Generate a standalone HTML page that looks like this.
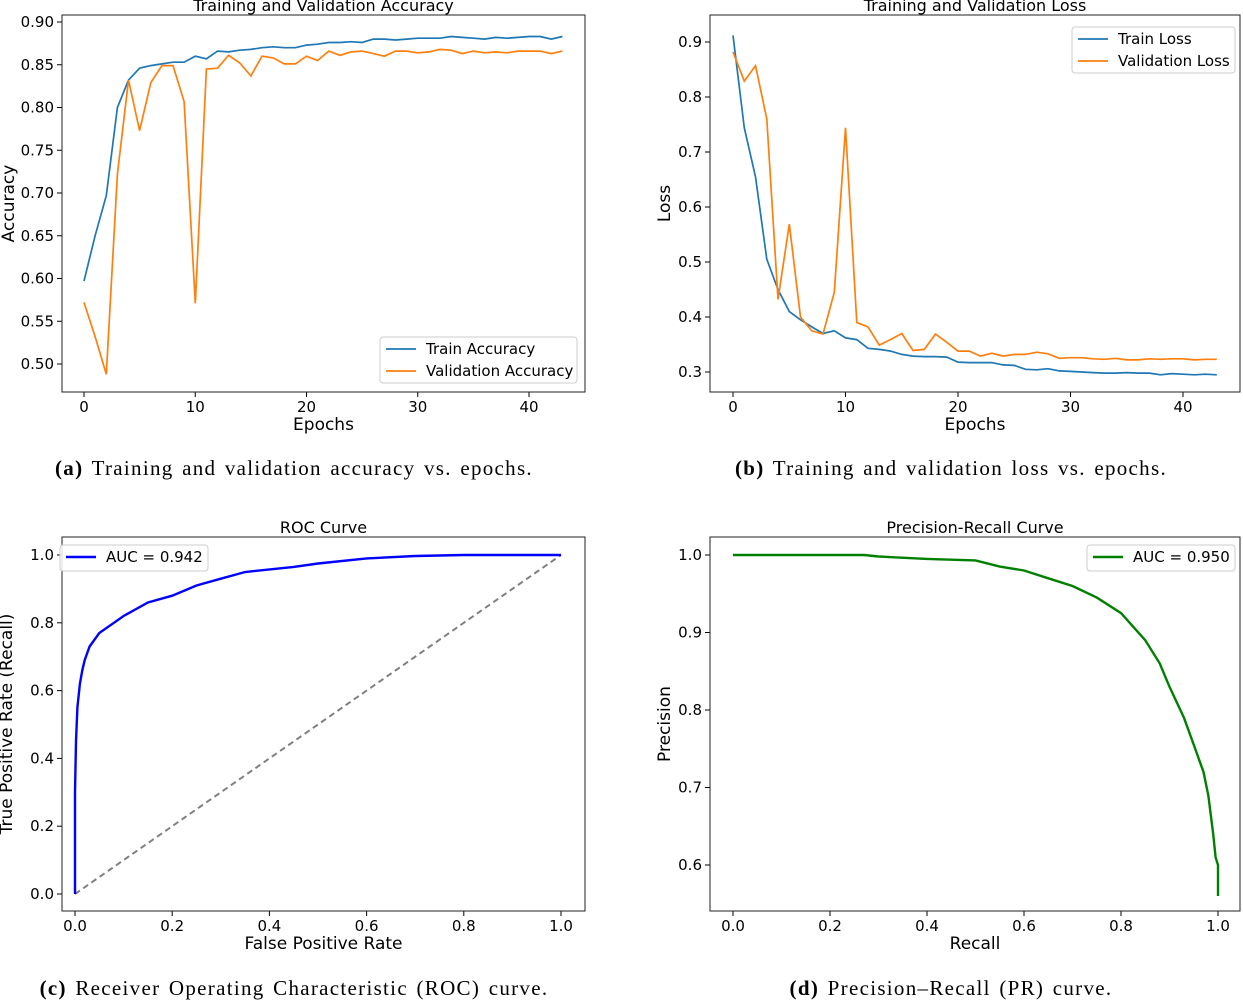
<!DOCTYPE html>
<html><head><meta charset="utf-8"><style>
body{margin:0;background:#fff}
svg text{font-family:"DejaVu Sans","Liberation Sans",sans-serif;fill:#000}
.cap{font-family:"Liberation Serif",serif;font-size:21px;letter-spacing:1.3px;word-spacing:2px}
</style></head><body>
<svg id="s" width="1243" height="1001" xmlns="http://www.w3.org/2000/svg"></svg>
<script>
const epochs=[...Array(44).keys()];
const trainAcc=[0.597,0.65,0.697,0.80,0.832,0.846,0.849,0.851,0.853,0.853,0.860,0.857,0.866,0.865,0.867,0.868,0.870,0.871,0.870,0.870,0.873,0.874,0.876,0.876,0.877,0.876,0.880,0.880,0.879,0.880,0.881,0.881,0.881,0.883,0.882,0.881,0.880,0.882,0.881,0.882,0.883,0.883,0.880,0.883];
const valAcc=[0.572,0.532,0.488,0.722,0.832,0.773,0.829,0.849,0.849,0.807,0.571,0.845,0.846,0.861,0.852,0.837,0.860,0.858,0.851,0.851,0.860,0.855,0.866,0.861,0.865,0.866,0.863,0.860,0.866,0.866,0.864,0.865,0.868,0.867,0.863,0.866,0.864,0.865,0.864,0.866,0.866,0.866,0.863,0.866];
const trainLoss=[0.912,0.744,0.655,0.505,0.45,0.41,0.395,0.382,0.37,0.375,0.362,0.359,0.343,0.341,0.338,0.332,0.329,0.328,0.328,0.327,0.318,0.317,0.317,0.317,0.313,0.312,0.305,0.304,0.306,0.302,0.301,0.300,0.299,0.298,0.298,0.299,0.298,0.298,0.295,0.297,0.296,0.295,0.296,0.295];
const valLoss=[0.882,0.829,0.857,0.76,0.432,0.569,0.40,0.375,0.369,0.445,0.744,0.39,0.382,0.349,0.359,0.37,0.339,0.341,0.369,0.354,0.338,0.338,0.329,0.334,0.329,0.332,0.332,0.336,0.333,0.325,0.326,0.326,0.324,0.323,0.325,0.322,0.322,0.324,0.323,0.324,0.324,0.322,0.323,0.323];
const rocFpr=[0,0,0.002,0.005,0.01,0.015,0.02,0.03,0.05,0.08,0.1,0.15,0.2,0.25,0.3,0.35,0.45,0.5,0.6,0.7,0.8,1];
const rocTpr=[0,0.3,0.45,0.55,0.62,0.66,0.69,0.73,0.77,0.80,0.82,0.86,0.88,0.91,0.93,0.95,0.965,0.975,0.99,0.997,1,1];
const prRecall=[0,0.27,0.3,0.4,0.5,0.55,0.6,0.65,0.7,0.75,0.8,0.85,0.88,0.9,0.93,0.95,0.97,0.98,0.99,0.995,1,1];
const prPrecision=[1,1,0.998,0.995,0.993,0.985,0.98,0.97,0.96,0.945,0.925,0.89,0.86,0.83,0.79,0.755,0.72,0.69,0.64,0.61,0.6,0.56];
const epochTicks=[0,10,20,30,40];
const accTicks=[0.50,0.55,0.60,0.65,0.70,0.75,0.80,0.85,0.90];
const lossTicks=[0.3,0.4,0.5,0.6,0.7,0.8,0.9];
const unitTicks=[0,0.2,0.4,0.6,0.8,1.0];
const precTicks=[0.6,0.7,0.8,0.9,1.0];
const diag=[0,1];

const S=document.getElementById('s');
function el(t,a,txt){const e=document.createElementNS('http://www.w3.org/2000/svg',t);for(const k in a)e.setAttribute(k,a[k]);if(txt!==undefined)e.textContent=txt;S.appendChild(e);return e;}

function panel(p){
  const sx=v=>p.px0+(v-p.x0)*(p.px1-p.px0)/(p.x1-p.x0);
  const sy=v=>p.py0+(v-p.y0)*(p.py1-p.py0)/(p.y1-p.y0);
  for(const t of p.xt){const x=sx(t);
    const l=el('line',{x1:x,x2:x,y1:p.b.y+p.b.h,y2:p.b.y+p.b.h+5,stroke:'#000'});
    
    const tx=el('text',{x:x,y:p.b.y+p.b.h+20,'font-size':15,'text-anchor':'middle'},p.xf(t));
    }
  for(const t of p.yt){const y=sy(t);
    const l=el('line',{x1:p.b.x-5,x2:p.b.x,y1:y,y2:y,stroke:'#000'});
    
    const tx=el('text',{x:p.b.x-8,y:y+5,'font-size':15,'text-anchor':'end'},p.yf(t));
    }
  for(const s of p.series){
    const pts=s.xs.map((v,i)=>sx(v).toFixed(1)+','+sy(s.ys[i]).toFixed(1)).join(' ');
    const pl=el('polyline',{points:pts,fill:'none',stroke:s.c,'stroke-width':s.w||1.7,'stroke-dasharray':s.d||'none'});
    }
  const r=el('rect',{x:p.b.x,y:p.b.y,width:p.b.w,height:p.b.h,fill:'none',stroke:'#222','stroke-width':1});
  
  const ti=el('text',{x:p.b.x+p.b.w/2,y:p.b.y-4,'font-size':16,'text-anchor':'middle'},p.title);
  
  const xl=el('text',{x:p.b.x+p.b.w/2,y:p.b.y+p.b.h+38,'font-size':17,'text-anchor':'middle'},p.xl);
  
  const yx=p.b.x-p.ylo, yy=p.b.y+p.b.h/2;
  const yl=el('text',{x:yx,y:yy,'font-size':17,'text-anchor':'middle',transform:`rotate(-90 ${yx} ${yy})`},p.yl);
  
  const L=p.leg;
  const lr=el('rect',{x:L.x,y:L.y,width:L.w,height:L.h,rx:3,fill:'#fff','fill-opacity':0.85,stroke:'#ccc'});
  
  L.items.forEach((it,i)=>{const y=L.y+12+i*22;
    const ll=el('line',{x1:L.x+6,x2:L.x+36,y1:y,y2:y,stroke:it.c,'stroke-width':it.w||1.7});
    
    const lt=el('text',{x:L.x+46,y:y+5,'font-size':15},it.t);
    });
  const cp=el('text',{x:p.capX,y:p.capY,'text-anchor':'middle',class:'cap'});
  
  const bb=document.createElementNS('http://www.w3.org/2000/svg','tspan');bb.setAttribute('font-weight','bold');bb.textContent=p.capL;cp.appendChild(bb);
  const rest=document.createElementNS('http://www.w3.org/2000/svg','tspan');rest.textContent=' '+p.cap;cp.appendChild(rest);
}
const BLUE='#1f77b4',OR='#ff7f0e';
panel({b:{x:62,y:15,w:523,h:377},x0:0,x1:40,px0:84,px1:529,y0:0.5,y1:0.9,py0:364,py1:22,
 xt:epochTicks,yt:accTicks,xf:v=>v,yf:v=>v.toFixed(2),title:'Training and Validation Accuracy',xl:'Epochs',yl:'Accuracy',ylo:48,
 series:[{xs:epochs,ys:trainAcc,c:BLUE,name:'train-accuracy-line'},{xs:epochs,ys:valAcc,c:OR,name:'validation-accuracy-line'}],
 leg:{x:380,y:337,w:197,h:46,items:[{t:'Train Accuracy',c:BLUE},{t:'Validation Accuracy',c:OR}]},capX:294,capY:475,capL:'(a)',cap:'Training and validation accuracy vs. epochs.'});
panel({b:{x:710,y:15,w:530,h:377},x0:0,x1:40,px0:733,px1:1183,y0:0.3,y1:0.9,py0:372,py1:42,
 xt:epochTicks,yt:lossTicks,xf:v=>v,yf:v=>v.toFixed(1),title:'Training and Validation Loss',xl:'Epochs',yl:'Loss',ylo:40,
 series:[{xs:epochs,ys:trainLoss,c:BLUE,name:'train-loss-line'},{xs:epochs,ys:valLoss,c:OR,name:'validation-loss-line'}],
 leg:{x:1072,y:27,w:163,h:46,items:[{t:'Train Loss',c:BLUE},{t:'Validation Loss',c:OR}]},capX:951,capY:475,capL:'(b)',cap:'Training and validation loss vs. epochs.'});
panel({b:{x:62,y:537,w:523,h:374},x0:0,x1:1,px0:75,px1:561,y0:0,y1:1,py0:894,py1:555,
 xt:unitTicks,yt:unitTicks,xf:v=>v.toFixed(1),yf:v=>v.toFixed(1),title:'ROC Curve',xl:'False Positive Rate',yl:'True Positive Rate (Recall)',ylo:50,
 series:[{xs:diag,ys:diag,c:'#808080',d:'6,4',w:2,name:'chance-diagonal'},{xs:rocFpr,ys:rocTpr,c:'#0000ff',w:2.4,name:'roc-curve'}],
 leg:{x:60,y:545,w:148,h:26,items:[{t:'AUC = 0.942',c:'#0000ff',w:2.4}]},capX:294,capY:995,capL:'(c)',cap:'Receiver Operating Characteristic (ROC) curve.'});
panel({b:{x:710,y:537,w:530,h:374},x0:0,x1:1,px0:733,px1:1218,y0:0.6,y1:1,py0:865,py1:555,
 xt:unitTicks,yt:precTicks,xf:v=>v.toFixed(1),yf:v=>v.toFixed(1),title:'Precision-Recall Curve',xl:'Recall',yl:'Precision',ylo:40,
 series:[{xs:prRecall,ys:prPrecision,c:'#008000',w:2.4,name:'pr-curve'}],
 leg:{x:1087,y:545,w:148,h:26,items:[{t:'AUC = 0.950',c:'#008000',w:2.4}]},capX:951,capY:995,capL:'(d)',cap:'Precision–Recall (PR) curve.'});
</script>
</body></html>
